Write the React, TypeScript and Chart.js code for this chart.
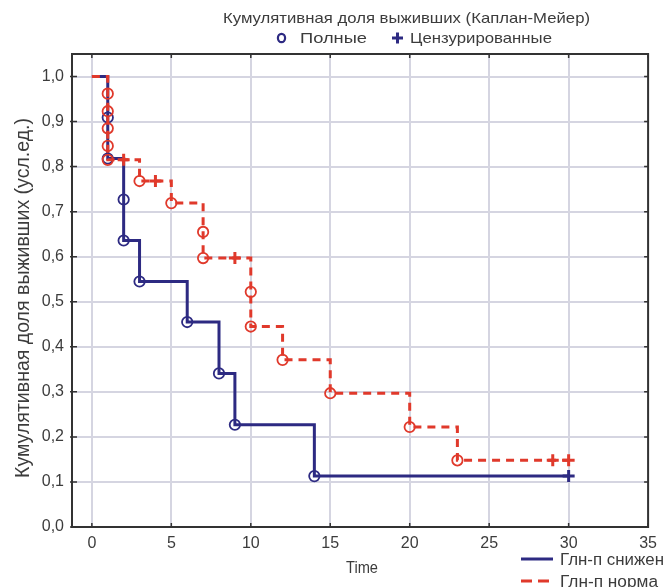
import React, { useEffect, useRef } from "react";
import { Chart, registerables } from "chart.js";

Chart.register(...registerables);

// ---- data ----
const blueStepX = [0, 1, 1, 2, 2, 3, 6, 8, 9, 14, 30];
const blueStepY = [1.0, 0.909, 0.818, 0.727, 0.636, 0.545, 0.455, 0.341, 0.227, 0.113, 0.113];
const blueEventX = [1, 1, 2, 2, 3, 6, 8, 9, 14];
const blueEventY = [0.909, 0.818, 0.727, 0.636, 0.545, 0.455, 0.341, 0.227, 0.113];
const blueCensX = [30];
const blueCensY = [0.113];

const redStepX = [0, 1, 1, 1, 1, 1, 3, 5, 7, 7, 10, 10, 12, 15, 20, 23, 30];
const redStepY = [1.0, 0.962, 0.923, 0.885, 0.846, 0.815, 0.768, 0.719, 0.655, 0.597, 0.522, 0.445, 0.371, 0.297, 0.222, 0.148, 0.148];
const redEventX = [1, 1, 1, 1, 1, 3, 5, 7, 7, 10, 10, 12, 15, 20, 23];
const redEventY = [0.962, 0.923, 0.885, 0.846, 0.815, 0.768, 0.719, 0.655, 0.597, 0.522, 0.445, 0.371, 0.297, 0.222, 0.148];
const redCensX = [2, 4, 9, 29, 30];
const redCensY = [0.815, 0.768, 0.597, 0.148, 0.148];

const xTicks = [0, 5, 10, 15, 20, 25, 30, 35];
const yTicks = [0, 0.1, 0.2, 0.3, 0.4, 0.5, 0.6, 0.7, 0.8, 0.9, 1.0];

const titleText = "Кумулятивная доля выживших (Каплан-Мейер)";
const completeLabel = "Полные";
const censoredLabel = "Цензурированные";
const yTitle = "Кумулятивная доля выживших (усл.ед.)";
const xTitle = "Time";
const blueName = "Глн-п снижен";
const redName = "Глн-п норма";

const BLUE = "#2d2a82";
const RED = "#e0392b";
const GRID = "#d5d5e1";
const FRAME = "#333333";
const TEXT = "#3c3c3c";
const FONT = "'Liberation Sans', Arial, sans-serif";

const pts = (xs: number[], ys: number[]) => xs.map((x, i) => ({ x, y: ys[i] }));

function fitText(
  ctx: CanvasRenderingContext2D,
  text: string,
  x: number,
  y: number,
  size: number,
  color: string,
  align: "left" | "center",
  width?: number,
  rotate = false
) {
  ctx.save();
  ctx.font = `${size}px ${FONT}`;
  ctx.fillStyle = color;
  ctx.textBaseline = "alphabetic";
  ctx.textAlign = align;
  const w = ctx.measureText(text).width;
  const sx = width ? width / w : 1;
  ctx.translate(x, y);
  if (rotate) ctx.rotate(-Math.PI / 2);
  ctx.scale(sx, 1);
  ctx.fillText(text, 0, 0);
  ctx.restore();
}

const decorPlugin = {
  id: "decor",
  afterDatasetsDraw(chart: any) {
    const { ctx, chartArea } = chart;
    const { left, right, top, bottom } = chartArea;
    const xs = chart.scales.x;
    const ys = chart.scales.y;
    ctx.save();
    ctx.strokeStyle = FRAME;
    ctx.lineWidth = 2;
    ctx.strokeRect(left, top, right - left, bottom - top);
    ctx.lineWidth = 1.5;
    ctx.beginPath();
    xTicks.forEach((v) => {
      const px = xs.getPixelForValue(v);
      ctx.moveTo(px, top);
      ctx.lineTo(px, top + 4);
      ctx.moveTo(px, bottom);
      ctx.lineTo(px, bottom - 4);
    });
    yTicks.forEach((v) => {
      const py = ys.getPixelForValue(v);
      ctx.moveTo(left - 2, py);
      ctx.lineTo(left + 5, py);
      ctx.moveTo(right, py);
      ctx.lineTo(right - 4, py);
    });
    ctx.stroke();
    ctx.restore();
  },
  afterDraw(chart: any) {
    const ctx: CanvasRenderingContext2D = chart.ctx;
    fitText(ctx, titleText, 406.5, 23, 14.5, TEXT, "center", 367);
    ctx.save();
    ctx.strokeStyle = BLUE;
    ctx.lineWidth = 2.2;
    ctx.beginPath();
    ctx.ellipse(281.5, 38, 3.6, 4.2, 0, 0, Math.PI * 2);
    ctx.stroke();
    ctx.lineWidth = 3;
    ctx.beginPath();
    ctx.moveTo(392, 38);
    ctx.lineTo(403, 38);
    ctx.moveTo(397.5, 32.5);
    ctx.lineTo(397.5, 43.5);
    ctx.stroke();
    ctx.restore();
    fitText(ctx, completeLabel, 300, 43, 14.5, TEXT, "left", 67);
    fitText(ctx, censoredLabel, 410, 43, 14.5, TEXT, "left", 142);
    fitText(ctx, yTitle, 29, 298, 21, TEXT, "center", 360, true);
    fitText(ctx, xTitle, 362, 573, 16, TEXT, "center", 32);
    const y1 = 559;
    const y2 = 581;
    ctx.save();
    ctx.strokeStyle = BLUE;
    ctx.lineWidth = 3;
    ctx.beginPath();
    ctx.moveTo(521, y1);
    ctx.lineTo(553, y1);
    ctx.stroke();
    ctx.strokeStyle = RED;
    ctx.beginPath();
    ctx.moveTo(521, y2);
    ctx.lineTo(532, y2);
    ctx.moveTo(538, y2);
    ctx.lineTo(549, y2);
    ctx.stroke();
    ctx.restore();
    fitText(ctx, blueName, 560, y1 + 6, 16, TEXT, "left", 104);
    fitText(ctx, redName, 560, y2 + 6, 16, TEXT, "left", 98);
  },
};

export default function App() {
  const ref = useRef<HTMLCanvasElement | null>(null);
  useEffect(() => {
    document.body.style.margin = "0";
    const canvas = ref.current;
    if (!canvas) return;
    const tickFont = { family: FONT, size: 16 };
    const chart = new Chart(canvas, {
      type: "line",
      data: {
        datasets: [
          {
            label: "red-cens",
            data: pts(redCensX, redCensY),
            showLine: false,
            pointStyle: "cross",
            pointRadius: 6,
            pointBorderWidth: 3,
            pointBorderColor: RED,
            pointBackgroundColor: RED,
            order: 1,
          },
          {
            label: "red-events",
            data: pts(redEventX, redEventY),
            showLine: false,
            pointStyle: "circle",
            pointRadius: 5.2,
            pointBorderWidth: 1.8,
            pointBorderColor: RED,
            pointBackgroundColor: "rgba(0,0,0,0)",
            order: 2,
          },
          {
            label: redName,
            data: pts(redStepX, redStepY),
            stepped: true,
            borderColor: RED,
            borderWidth: 3,
            borderDash: [8, 6],
            pointRadius: 0,
            fill: false,
            order: 3,
          },
          {
            label: "blue-cens",
            data: pts(blueCensX, blueCensY),
            showLine: false,
            pointStyle: "cross",
            pointRadius: 6,
            pointBorderWidth: 3,
            pointBorderColor: BLUE,
            pointBackgroundColor: BLUE,
            order: 4,
          },
          {
            label: "blue-events",
            data: pts(blueEventX, blueEventY),
            showLine: false,
            pointStyle: "circle",
            pointRadius: 5.2,
            pointBorderWidth: 1.8,
            pointBorderColor: BLUE,
            pointBackgroundColor: "rgba(0,0,0,0)",
            order: 5,
          },
          {
            label: blueName,
            data: pts(blueStepX, blueStepY),
            stepped: true,
            borderColor: BLUE,
            borderWidth: 3,
            pointRadius: 0,
            fill: false,
            order: 6,
          },
        ],
      },
      options: {
        animation: false,
        responsive: false,
        devicePixelRatio: 1,
        layout: { padding: { left: 0, top: 54, right: 11, bottom: 0 } },
        plugins: {
          legend: { display: false },
          title: { display: false },
          tooltip: { enabled: false },
        },
        scales: {
          x: {
            type: "linear",
            min: -1.25,
            max: 35,
            afterFit: (s: any) => {
              s.height = 60;
            },
            afterBuildTicks: (s: any) => {
              s.ticks = xTicks.map((value) => ({ value }));
            },
            grid: { color: GRID, lineWidth: 2, drawTicks: false },
            border: { display: false },
            ticks: {
              padding: 7,
              color: TEXT,
              font: tickFont,
              autoSkip: false,
              maxRotation: 0,
              callback: (v: any) => String(v),
            },
          },
          y: {
            type: "linear",
            min: 0,
            max: 1.05,
            afterFit: (s: any) => {
              s.width = 72;
            },
            afterBuildTicks: (s: any) => {
              s.ticks = yTicks.map((value) => ({ value }));
            },
            grid: { color: GRID, lineWidth: 2, drawTicks: false },
            border: { display: false },
            ticks: {
              padding: 8,
              color: TEXT,
              font: tickFont,
              autoSkip: false,
              callback: (v: any) => Number(v).toFixed(1).replace(".", ","),
            },
          },
        },
      },
      plugins: [decorPlugin],
    } as any);
    return () => chart.destroy();
  }, []);
  return <canvas ref={ref} width={664} height={587} style={{ display: "block" }} />;
}
